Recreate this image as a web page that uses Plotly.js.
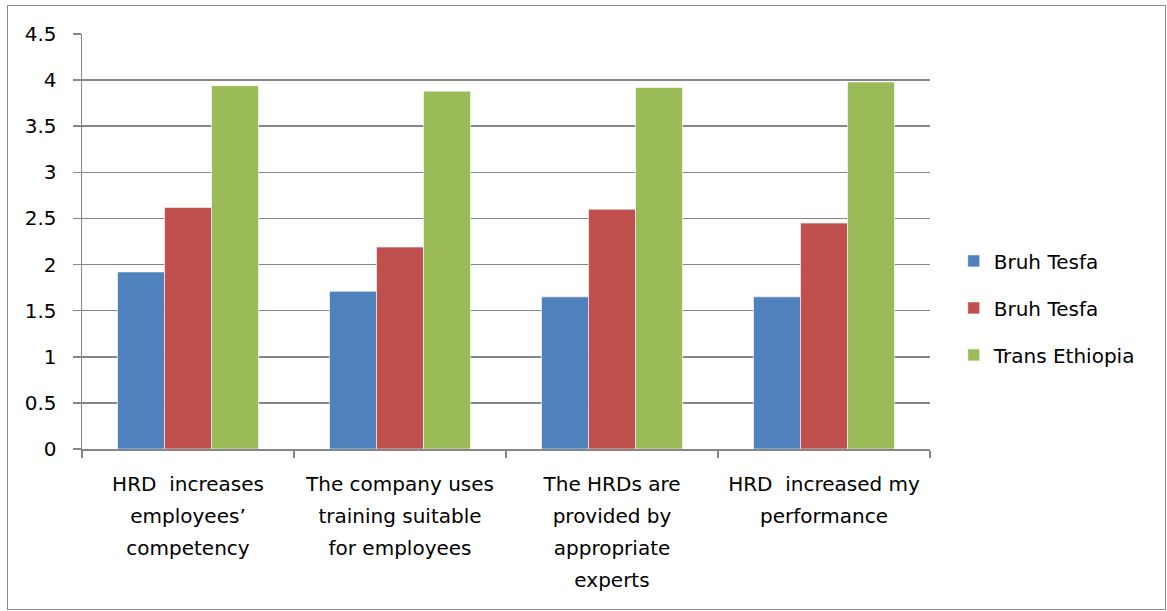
<!DOCTYPE html>
<html>
<head>
<meta charset="utf-8">
<script src="https://cdn.plot.ly/plotly-3.0.1.min.js"></script>
<style>
html,body{margin:0;padding:0;background:#fff;}
#chart{position:absolute;left:0;top:0;width:1167px;height:611px;}
#frame{position:absolute;left:7px;top:5px;width:1157px;height:603px;border:1px solid #8a8a8a;pointer-events:none;}
</style>
</head>
<body>
<div id="chart"></div>
<div id="frame"></div>
<script>
const categories = [
  "HRD  increases<br>employees’<br>competency",
  "The company uses<br>training suitable<br>for employees",
  "The HRDs are<br>provided by<br>appropriate<br>experts",
  "HRD  increased my<br>performance"
];
const seriesNames = ["Bruh Tesfa", "Bruh Tesfa", "Trans Ethiopia"];
const bruhTesfaA = [1.92, 1.71, 1.65, 1.65];
const bruhTesfaB = [2.62, 2.19, 2.60, 2.45];
const transEthiopia = [3.94, 3.88, 3.92, 3.98];
const colors = ["#4F81BD", "#C0504D", "#9BBB59"];
const yTicks = [0, 0.5, 1, 1.5, 2, 2.5, 3, 3.5, 4, 4.5];
const yTickText = ["0", "0.5", "1", "1.5", "2", "2.5", "3", "3.5", "4", "4.5"];

const values = [bruhTesfaA, bruhTesfaB, transEthiopia];
const traces = values.map((v, i) => ({
  type: "bar",
  x: categories,
  y: v,
  name: seriesNames[i],
  legendgroup: "g" + i,
  marker: {color: colors[i], line: {color: "rgba(255,255,255,0.6)", width: 1}},
  hoverinfo: "none"
}));

const font = {family: "'DejaVu Sans', sans-serif", size: 20, color: "#000"};

const layout = {
  width: 1167,
  height: 611,
  margin: {l: 82, r: 237, t: 34, b: 162},
  paper_bgcolor: "#fff",
  plot_bgcolor: "#fff",
  font: font,
  barmode: "group",
  bargap: 0.335,
  bargroupgap: 0,
  showlegend: true,
  legend: {
    x: 1.028, y: 0.34, xanchor: "left", yanchor: "middle",
    font: font,
    tracegroupgap: 18,
    itemwidth: 30,
    bgcolor: "rgba(0,0,0,0)"
  },
  xaxis: {
    type: "category",
    showgrid: false,
    showline: true,
    linecolor: "#868686",
    linewidth: 1.5,
    ticks: "outside",
    tickson: "boundaries",
    ticklen: 7,
    tickcolor: "#868686",
    tickwidth: 1.5,
    ticklabelstandoff: 16,
    tickfont: font,
    fixedrange: true
  },
  yaxis: {
    range: [0, 4.5],
    tickvals: yTicks,
    ticktext: yTickText,
    showgrid: true,
    gridcolor: "#868686",
    gridwidth: 1.5,
    showline: true,
    linecolor: "#868686",
    linewidth: 1.5,
    ticks: "outside",
    ticklen: 8,
    tickcolor: "#868686",
    tickwidth: 1.5,
    ticklabelstandoff: 12,
    tickfont: font,
    zeroline: false,
    fixedrange: true
  }
};

Plotly.newPlot("chart", traces, layout, {displayModeBar: false, staticPlot: true}).then(function (gd) {
  // widen the line spacing of the multi-line category labels (Excel-like leading)
  const factor = 32 / 26;
  gd.querySelectorAll(".xtick text tspan.line").forEach(function (t) {
    const dy = t.getAttribute("dy");
    if (dy && dy.endsWith("em")) {
      t.setAttribute("dy", (parseFloat(dy) * factor) + "em");
    }
  });
});
</script>
</body>
</html>
